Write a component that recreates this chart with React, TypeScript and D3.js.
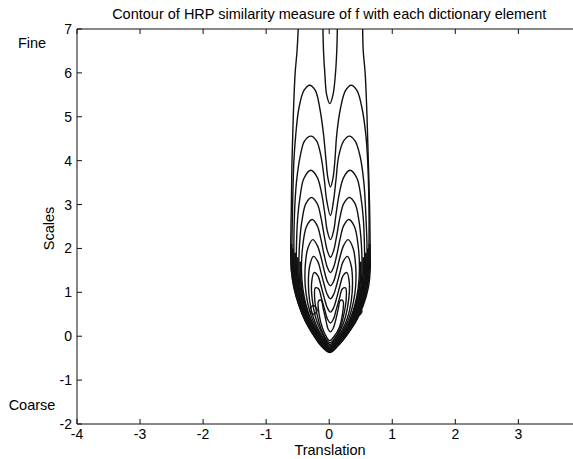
import React from 'react';
import * as d3 from 'd3';

// ---- axes data ----
const xTicks = [-4, -3, -2, -1, 0, 1, 2, 3, 4];
const xTickLabels = ['-4', '-3', '-2', '-1', '0', '1', '2', '3'];
const yTicks = [-2, -1, 0, 1, 2, 3, 4, 5, 6, 7];
const xDomain: [number, number] = [-4, 4];
const yDomain: [number, number] = [-2, 7];

const titleText = 'Contour of HRP similarity measure of f with each dictionary element';
const xLabel = 'Translation';
const yLabel = 'Scales';
const topNote = 'Fine';
const bottomNote = 'Coarse';

// ---- contour lines: [translation, scale] ----
// level 0: open at the top of the plot
const level0Outer: [number, number][] = [
  [-0.49, 7.05], [-0.51, 6.5], [-0.54, 6], [-0.57, 5], [-0.59, 4], [-0.6, 3], [-0.61, 2], [-0.6, 1.5],
  [-0.56, 1.1], [-0.48, 0.7], [-0.38, 0.35], [-0.26, 0.05], [-0.13, -0.22], [0.01, -0.37],
  [0.14, -0.22], [0.29, 0.05], [0.43, 0.35], [0.54, 0.7], [0.62, 1.1], [0.65, 1.5], [0.65, 2],
  [0.64, 3], [0.62, 4], [0.6, 5], [0.57, 6], [0.54, 6.5], [0.53, 7.05],
];
const level0Center: [number, number][] = [
  [-0.1, 7.05], [-0.09, 6.5], [-0.07, 6], [-0.04, 5.5], [0.01, 5.3], [0.06, 5.5], [0.1, 6], [0.12, 6.5], [0.13, 7.05],
];

const level1: [number, number][] = [
  [0.01, -0.35], [-0.12, -0.2], [-0.25, 0.05], [-0.37, 0.35], [-0.47, 0.7], [-0.54, 1.1], [-0.58, 1.5],
  [-0.59, 2], [-0.58, 3], [-0.56, 4], [-0.53, 4.6], [-0.48, 5.2], [-0.4, 5.6], [-0.31, 5.72],
  [-0.22, 5.6], [-0.15, 5.2], [-0.09, 4.6], [-0.05, 4.0], [-0.02, 3.6], [0.02, 3.4], [0.06, 3.6],
  [0.09, 4.0], [0.12, 4.6], [0.18, 5.2], [0.26, 5.6], [0.35, 5.72], [0.44, 5.6], [0.52, 5.2],
  [0.58, 4.6], [0.61, 4], [0.63, 3], [0.63, 2], [0.62, 1.5], [0.58, 1.1], [0.51, 0.7], [0.41, 0.35],
  [0.29, 0.05], [0.14, -0.2],
];
const level2: [number, number][] = [
  [0.01, -0.33], [-0.11, -0.19], [-0.23, 0.05], [-0.35, 0.35], [-0.45, 0.7], [-0.52, 1.1], [-0.55, 1.5],
  [-0.56, 2], [-0.55, 2.8], [-0.52, 3.5], [-0.46, 4.1], [-0.39, 4.45], [-0.29, 4.56], [-0.2, 4.45],
  [-0.13, 4.1], [-0.08, 3.6], [-0.04, 3.1], [0.02, 2.75], [0.07, 3.1], [0.11, 3.6], [0.15, 4.1],
  [0.23, 4.45], [0.32, 4.56], [0.41, 4.45], [0.49, 4.1], [0.55, 3.5], [0.58, 2.8], [0.6, 2],
  [0.59, 1.5], [0.56, 1.1], [0.49, 0.7], [0.39, 0.35], [0.27, 0.05], [0.13, -0.19],
];
const level3: [number, number][] = [
  [0.01, -0.31], [-0.1, -0.17], [-0.21, 0.06], [-0.33, 0.36], [-0.43, 0.7], [-0.49, 1.1], [-0.52, 1.5],
  [-0.52, 2], [-0.5, 2.7], [-0.46, 3.2], [-0.4, 3.6], [-0.29, 3.78], [-0.19, 3.62], [-0.12, 3.25],
  [-0.07, 2.8], [-0.03, 2.4], [0.02, 2.2], [0.07, 2.4], [0.11, 2.8], [0.16, 3.25], [0.23, 3.62],
  [0.33, 3.78], [0.44, 3.6], [0.5, 3.2], [0.54, 2.7], [0.56, 2], [0.56, 1.5], [0.53, 1.1], [0.47, 0.7],
  [0.37, 0.36], [0.25, 0.06], [0.12, -0.17],
];
const level4: [number, number][] = [
  [0.01, -0.29], [-0.09, -0.15], [-0.2, 0.07], [-0.31, 0.37], [-0.4, 0.72], [-0.46, 1.1], [-0.48, 1.5],
  [-0.47, 2.1], [-0.43, 2.65], [-0.37, 3.02], [-0.28, 3.16], [-0.19, 3.02], [-0.13, 2.7], [-0.08, 2.3],
  [-0.03, 1.95], [0.02, 1.8], [0.07, 1.95], [0.12, 2.3], [0.17, 2.7], [0.23, 3.02], [0.32, 3.16],
  [0.41, 3.02], [0.47, 2.65], [0.51, 2.1], [0.52, 1.5], [0.5, 1.1], [0.44, 0.72], [0.35, 0.37],
  [0.24, 0.07], [0.11, -0.15],
];
const level5: [number, number][] = [
  [0.01, -0.27], [-0.08, -0.13], [-0.18, 0.08], [-0.29, 0.38], [-0.37, 0.73], [-0.42, 1.1], [-0.44, 1.55],
  [-0.42, 2.05], [-0.36, 2.5], [-0.27, 2.66], [-0.19, 2.52], [-0.13, 2.2], [-0.08, 1.85], [-0.03, 1.57],
  [0.02, 1.45], [0.07, 1.57], [0.12, 1.85], [0.17, 2.2], [0.23, 2.52], [0.31, 2.66], [0.4, 2.5],
  [0.46, 2.05], [0.48, 1.55], [0.46, 1.1], [0.41, 0.73], [0.33, 0.38], [0.22, 0.08], [0.11, -0.13],
];
const level6: [number, number][] = [
  [0.01, -0.25], [-0.07, -0.11], [-0.17, 0.1], [-0.27, 0.4], [-0.34, 0.75], [-0.38, 1.15], [-0.38, 1.6],
  [-0.34, 2.0], [-0.26, 2.2], [-0.19, 2.07], [-0.13, 1.8], [-0.08, 1.5], [-0.03, 1.25], [0.02, 1.15],
  [0.07, 1.25], [0.12, 1.5], [0.17, 1.8], [0.23, 2.07], [0.3, 2.2], [0.38, 2.0], [0.42, 1.6],
  [0.42, 1.15], [0.38, 0.75], [0.31, 0.4], [0.21, 0.1], [0.1, -0.11],
];
const level7: [number, number][] = [
  [0.01, -0.22], [-0.07, -0.09], [-0.16, 0.12], [-0.25, 0.42], [-0.31, 0.8], [-0.33, 1.2], [-0.31, 1.6],
  [-0.25, 1.82], [-0.18, 1.7], [-0.13, 1.45], [-0.08, 1.18], [-0.03, 0.95], [0.02, 0.85], [0.07, 0.95],
  [0.12, 1.18], [0.17, 1.45], [0.22, 1.7], [0.29, 1.82], [0.35, 1.6], [0.37, 1.2], [0.35, 0.8],
  [0.29, 0.42], [0.2, 0.12], [0.1, -0.09],
];
const level8: [number, number][] = [
  [0.01, -0.19], [-0.06, -0.07], [-0.14, 0.14], [-0.22, 0.45], [-0.27, 0.85], [-0.28, 1.2], [-0.24, 1.45],
  [-0.18, 1.38], [-0.13, 1.15], [-0.08, 0.88], [-0.03, 0.65], [0.02, 0.55], [0.07, 0.65], [0.12, 0.88],
  [0.17, 1.15], [0.22, 1.38], [0.28, 1.45], [0.32, 1.2], [0.31, 0.85], [0.26, 0.45], [0.18, 0.14],
  [0.09, -0.07],
];
const level9: [number, number][] = [
  [0.01, -0.15], [-0.06, -0.04], [-0.13, 0.17], [-0.19, 0.48], [-0.23, 0.85], [-0.22, 1.1], [-0.17, 1.08],
  [-0.12, 0.85], [-0.07, 0.6], [-0.03, 0.4], [0.02, 0.3], [0.07, 0.4], [0.11, 0.6], [0.16, 0.85],
  [0.21, 1.08], [0.26, 1.1], [0.27, 0.85], [0.23, 0.48], [0.17, 0.17], [0.09, -0.04],
];
const level10: [number, number][] = [
  [0.01, -0.1], [-0.05, 0.0], [-0.11, 0.2], [-0.16, 0.5], [-0.17, 0.8], [-0.13, 0.82], [-0.09, 0.6],
  [-0.05, 0.35], [-0.02, 0.17], [0.02, 0.1], [0.06, 0.17], [0.1, 0.35], [0.14, 0.6], [0.18, 0.82],
  [0.22, 0.8], [0.21, 0.5], [0.16, 0.2], [0.08, 0.0],
];
const closedLevels = [level1, level2, level3, level4, level5, level6, level7, level8, level9, level10];

// densely packed contour segments along the lower flanks (the dark band)
const band1: [number, number][] = [
  [-0.6, 2.1], [-0.595, 1.5], [-0.55, 1.1], [-0.475, 0.7], [-0.375, 0.35], [-0.255, 0.05], [-0.125, -0.21],
  [0.01, -0.36], [0.135, -0.21], [0.285, 0.05], [0.42, 0.35], [0.525, 0.7], [0.6, 1.1], [0.635, 1.5], [0.64, 2.1],
];
const band2: [number, number][] = [
  [-0.575, 2.0], [-0.565, 1.5], [-0.53, 1.1], [-0.46, 0.7], [-0.36, 0.35], [-0.24, 0.05], [-0.115, -0.195],
  [0.01, -0.34], [0.135, -0.195], [0.28, 0.05], [0.4, 0.35], [0.5, 0.7], [0.57, 1.1], [0.605, 1.5], [0.615, 2.0],
];
const band3: [number, number][] = [
  [-0.54, 1.9], [-0.535, 1.5], [-0.505, 1.1], [-0.44, 0.7], [-0.34, 0.355], [-0.22, 0.055], [-0.105, -0.18],
  [0.01, -0.32], [0.125, -0.18], [0.26, 0.055], [0.38, 0.355], [0.48, 0.7], [0.545, 1.1], [0.575, 1.5], [0.58, 1.9],
];
const band4: [number, number][] = [
  [-0.5, 1.8], [-0.5, 1.5], [-0.475, 1.1], [-0.415, 0.71], [-0.32, 0.365], [-0.205, 0.065], [-0.095, -0.16],
  [0.01, -0.3], [0.115, -0.16], [0.245, 0.065], [0.36, 0.365], [0.455, 0.71], [0.515, 1.1], [0.54, 1.5], [0.54, 1.8],
];
const band5: [number, number][] = [
  [-0.46, 1.7], [-0.46, 1.5], [-0.44, 1.1], [-0.385, 0.725], [-0.3, 0.375], [-0.19, 0.075], [-0.085, -0.14],
  [0.01, -0.28], [0.11, -0.14], [0.23, 0.075], [0.34, 0.375], [0.425, 0.725], [0.48, 1.1], [0.5, 1.5], [0.5, 1.7],
];
const bandLines = [band1, band2, band3, band4, band5];

// small isolated loops
const loopLeft: [number, number][] = [[-0.31, 0.6], [-0.25, 0.7], [-0.19, 0.6], [-0.25, 0.5]];
const loopRight: [number, number][] = [[0.4, 0.57], [0.46, 0.67], [0.52, 0.57], [0.46, 0.47]];
const loops = [loopLeft, loopRight];

const W = 573;
const H = 459;
const left = 77;
const right = 581.4;
const top = 29;
const bottom = 424;
const font = 'Liberation Sans, Arial, Helvetica, sans-serif';

export default function App() {
  const x = d3.scaleLinear().domain(xDomain).range([left, right]);
  const y = d3.scaleLinear().domain(yDomain).range([bottom, top]);

  const openLine = d3.line<[number, number]>().x(d => x(d[0])).y(d => y(d[1])).curve(d3.curveCatmullRom);
  const closedLine = d3.line<[number, number]>().x(d => x(d[0])).y(d => y(d[1])).curve(d3.curveCatmullRomClosed);

  const tickLen = 5;
  const stroke = '#111';

  return (
    <svg width={W} height={H} style={{ position: 'absolute', left: 0, top: 0, background: '#fff' }}
      fontFamily={font}>
      <defs>
        <clipPath id="plotclip">
          <rect x={left} y={top} width={right - left} height={bottom - top} />
        </clipPath>
      </defs>
      <rect x={0} y={0} width={W} height={H} fill="#fff" />

      {/* contours */}
      <g clipPath="url(#plotclip)" fill="none" stroke={stroke} strokeWidth={1.4}>
        <path d={openLine(level0Outer) || ''} />
        <path d={openLine(level0Center) || ''} />
        {closedLevels.map((lv, i) => (
          <path key={i} d={closedLine(lv) || ''} />
        ))}
        {bandLines.map((b, i) => (
          <path key={'b' + i} d={openLine(b) || ''} strokeWidth={1.9} />
        ))}
        {loops.map((lp, i) => (
          <path key={'l' + i} d={closedLine(lp) || ''} />
        ))}
      </g>

      {/* axes box */}
      <g stroke={stroke} strokeWidth={1}>
        <line x1={left} x2={right} y1={bottom} y2={bottom} />
        <line x1={left} x2={right} y1={top} y2={top} />
        <line x1={left} x2={left} y1={top} y2={bottom} />
        <line x1={right} x2={right} y1={top} y2={bottom} />
        {xTicks.map(t => (
          <g key={'xt' + t}>
            <line x1={x(t)} x2={x(t)} y1={bottom} y2={bottom - tickLen} />
            <line x1={x(t)} x2={x(t)} y1={top} y2={top + tickLen} />
          </g>
        ))}
        {yTicks.map(t => (
          <g key={'yt' + t}>
            <line x1={left} x2={left + tickLen} y1={y(t)} y2={y(t)} />
            <line x1={right} x2={right - tickLen} y1={y(t)} y2={y(t)} />
          </g>
        ))}
      </g>

      {/* tick labels */}
      <g fontSize={14} fill="#000">
        {xTickLabels.map((lab, i) => (
          <text key={'xl' + i} x={x(xTicks[i])} y={bottom + 15} textAnchor="middle">{lab}</text>
        ))}
        {yTicks.map(t => (
          <text key={'yl' + t} x={left - 5} y={y(t) + 5} textAnchor="end">{String(t)}</text>
        ))}
      </g>

      <text x={(left + right) / 2} y={19} textAnchor="middle" fontSize={14.5}>{titleText}</text>
      <text x={330} y={455} textAnchor="middle" fontSize={14.5}>{xLabel}</text>
      <text transform={`translate(54,${(top + bottom) / 2 + 2}) rotate(-90)`} textAnchor="middle" fontSize={14.5}>{yLabel}</text>
      <text x={32} y={48} textAnchor="middle" fontSize={14.5}>{topNote}</text>
      <text x={32} y={410} textAnchor="middle" fontSize={14.5}>{bottomNote}</text>
    </svg>
  );
}
